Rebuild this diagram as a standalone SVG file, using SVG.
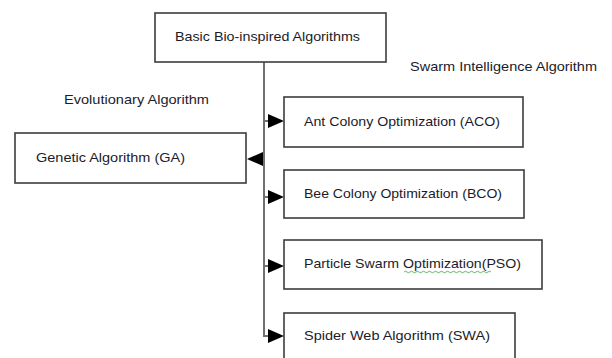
<svg xmlns="http://www.w3.org/2000/svg" width="612" height="358" viewBox="0 0 612 358">
  <style>
    .box { fill: #ffffff; stroke: #3c3c3c; stroke-width: 1.6; }
    .lbl { font-family: "Liberation Sans", Arial, sans-serif; font-size: 13.5px; fill: #1b1b2a; }
    .wire { fill: none; stroke: #707070; stroke-width: 2; }
    .head { fill: #000000; }
    .squiggle { fill: none; stroke: #4caf50; stroke-width: 0.9; }
  </style>
  <defs>
    <!-- arrowheads, tip at origin -->
    <polygon id="headR" class="head" points="0,0 -16,-7 -16,7"/>
    <polygon id="headL" class="head" points="0,0 16,-7 16,7"/>
  </defs>
  <rect width="612" height="358" fill="#ffffff"/>

  <!-- connectors: trunk with branches to each family -->
  <g id="connectors">
    <path class="wire" d="M264,62 V337"/>
    <path class="wire" d="M264,121 H270"/>
    <path class="wire" d="M264,197 H270"/>
    <path class="wire" d="M264,266 H270"/>
    <path class="wire" d="M264,336 H270"/>
    <path class="wire" d="M258,159 H264"/>
    <use href="#headR" x="284" y="121"/>
    <use href="#headL" x="247" y="159"/>
    <use href="#headR" x="284" y="197"/>
    <use href="#headR" x="284" y="266"/>
    <use href="#headR" x="284" y="336"/>
  </g>

  <g id="root">
    <rect class="box" x="155" y="13" width="231" height="49"/>
    <text class="lbl" x="175" y="41" textLength="185" lengthAdjust="spacingAndGlyphs">Basic Bio-inspired Algorithms</text>
  </g>

  <g id="label-swarm">
    <text class="lbl" x="410" y="71" textLength="187" lengthAdjust="spacingAndGlyphs">Swarm Intelligence Algorithm</text>
  </g>
  <g id="label-evolutionary">
    <text class="lbl" x="64" y="104" textLength="145" lengthAdjust="spacingAndGlyphs">Evolutionary Algorithm</text>
  </g>

  <g id="ga">
    <rect class="box" x="15" y="133" width="231" height="50"/>
    <text class="lbl" x="36" y="162" textLength="149" lengthAdjust="spacingAndGlyphs">Genetic Algorithm (GA)</text>
  </g>

  <g id="aco">
    <rect class="box" x="284" y="97" width="239" height="50"/>
    <text class="lbl" x="304" y="126" textLength="196" lengthAdjust="spacingAndGlyphs">Ant Colony Optimization (ACO)</text>
  </g>

  <g id="bco">
    <rect class="box" x="284" y="170" width="240" height="48"/>
    <text class="lbl" x="304" y="198" textLength="198" lengthAdjust="spacingAndGlyphs">Bee Colony Optimization (BCO)</text>
  </g>

  <g id="pso">
    <rect class="box" x="284" y="240" width="258" height="49"/>
    <text class="lbl" x="304" y="268" textLength="217" lengthAdjust="spacingAndGlyphs">Particle Swarm Optimization(PSO)</text>
    <path class="squiggle" d="M404,272 q1.5,-1.5 3,0 t3,0 t3,0 t3,0 t3,0 t3,0 t3,0 t3,0 t3,0 t3,0 t3,0 t3,0 t3,0 t3,0 t3,0 t3,0 t3,0 t3,0 t3,0 t3,0 t3,0 t3,0 t3,0 t3,0 t3,0 t3,0 t3,0 t3,0 t3,0"/>
  </g>

  <g id="swa">
    <rect class="box" x="284" y="313" width="231" height="60"/>
    <text class="lbl" x="304" y="340" textLength="186" lengthAdjust="spacingAndGlyphs">Spider Web Algorithm (SWA)</text>
  </g>
</svg>
